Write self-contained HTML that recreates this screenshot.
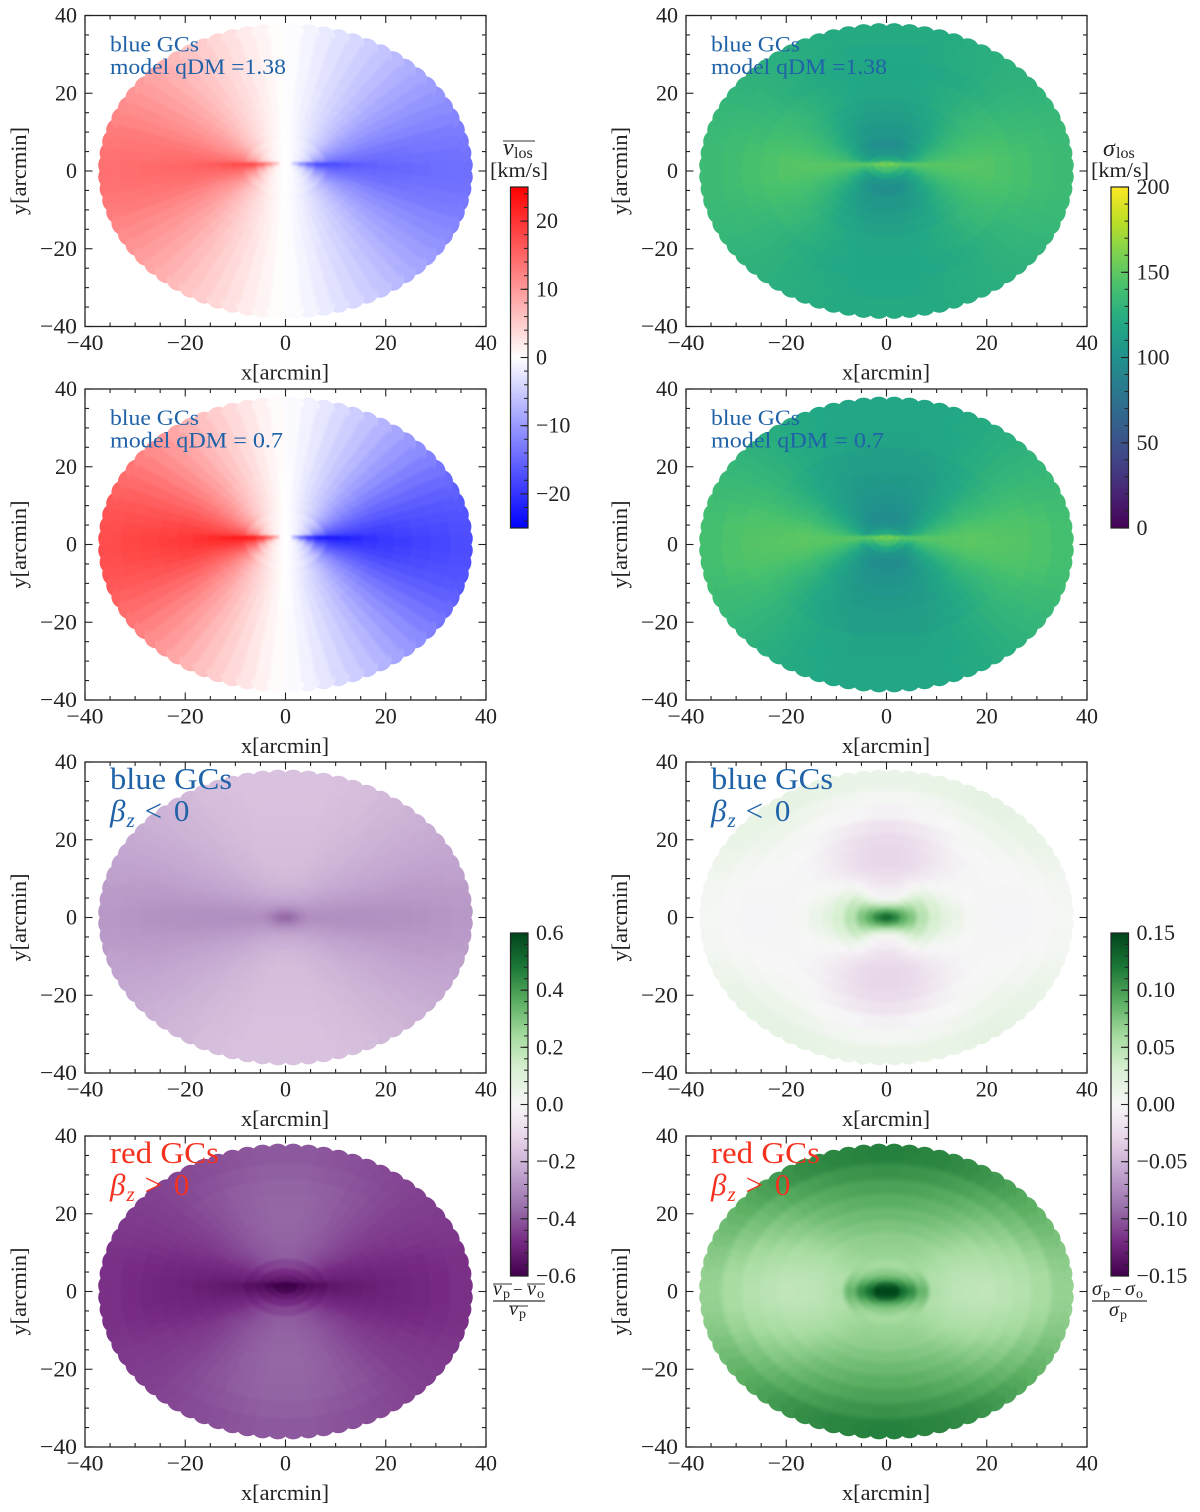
<!DOCTYPE html>
<html>
<head>
<meta charset="utf-8">
<title>Velocity and dispersion maps</title>
<style>
  html,body{margin:0;padding:0;background:#fff;}
  svg{display:block;}
  text{font-family:"Liberation Serif",serif;fill:#222;}
</style>
</head>
<body>
<svg id="figure" xmlns="http://www.w3.org/2000/svg" width="1200" height="1512" viewBox="0 0 1200 1512">
  <defs>
    <filter id="soften" filterUnits="userSpaceOnUse" x="0" y="0" width="1200" height="1512" color-interpolation-filters="sRGB">
      <feGaussianBlur stdDeviation="2.2"/>
    </filter>
    <filter id="soften-fine" filterUnits="userSpaceOnUse" x="0" y="0" width="1200" height="1512" color-interpolation-filters="sRGB">
      <feGaussianBlur stdDeviation="1.3"/>
    </filter>
  </defs>
  <g id="panels"></g>
  <g id="colorbars"></g>

  <g>
    <line x1="503" x2="535" y1="141" y2="141" stroke="#333" stroke-width="1"/>
    <text x="503" y="155" font-size="24" font-style="italic">v</text>
    <text x="514" y="158" font-size="16">los</text>
    <text x="490" y="177" font-size="21" textLength="58" lengthAdjust="spacingAndGlyphs">[km/s]</text>
  </g>
  <g>
    <text x="1103" y="156" font-size="24" font-style="italic">σ</text>
    <text x="1116" y="158" font-size="16">los</text>
    <text x="1091" y="177" font-size="21" textLength="58" lengthAdjust="spacingAndGlyphs">[km/s]</text>
  </g>
  <g>
    <line x1="493" x2="512" y1="1284" y2="1284" stroke="#333" stroke-width="1"/>
    <line x1="527" x2="545" y1="1284" y2="1284" stroke="#333" stroke-width="1"/>
    <text x="493" y="1295" font-size="20" font-style="italic">v</text>
    <text x="503" y="1298" font-size="14">p</text>
    <text x="513" y="1295" font-size="17">−</text>
    <text x="527" y="1295" font-size="20" font-style="italic">v</text>
    <text x="537" y="1298" font-size="14">o</text>
    <line x1="493" x2="545" y1="1301" y2="1301" stroke="#333" stroke-width="1.2"/>
    <line x1="509" x2="528" y1="1306" y2="1306" stroke="#333" stroke-width="1"/>
    <text x="509" y="1315" font-size="20" font-style="italic">v</text>
    <text x="519" y="1318" font-size="14">p</text>
  </g>
  <g>
    <text x="1092" y="1295" font-size="20" font-style="italic">σ</text>
    <text x="1103" y="1298" font-size="14">p</text>
    <text x="1112" y="1295" font-size="17">−</text>
    <text x="1125" y="1295" font-size="20" font-style="italic">σ</text>
    <text x="1136" y="1298" font-size="14">o</text>
    <line x1="1092" x2="1147" y1="1301" y2="1301" stroke="#333" stroke-width="1.2"/>
    <text x="1109" y="1316" font-size="20" font-style="italic">σ</text>
    <text x="1120" y="1319" font-size="14">p</text>
  </g>
</svg>

<script>
// Polar sampling of the maps: ring radius (arcmin) and wedge angle (deg from the x axis)
const ringRadii = [0.8, 2, 3.5, 5, 7, 10, 12, 14, 17, 20, 23.5, 27, 31, 35];
const wedgeAngles = [2.5, 7.5, 12.5, 17.5, 22.5, 27.5, 32.5, 37.5, 42.5, 47.5, 52.5, 57.5, 62.5, 67.5, 72.5, 77.5, 82.5, 87.5];

// Axis tick labels
const axisMajorTicks = [-40, -20, 0, 20, 40];
const vlosTicks = [-20, -10, 0, 10, 20];
const sigmaTicks = [0, 50, 100, 150, 200];
const velocityDiffTicks = [-0.6, -0.4, -0.2, 0, 0.2, 0.4, 0.6];
const dispersionDiffTicks = [-0.15, -0.10, -0.05, 0, 0.05, 0.10, 0.15];

// Mean LOS velocity, blue GCs, qDM = 1.38 (magnitude; sign flips across x = 0)
const vlosQ138 = [
[1,.8,.5,.4,.3,.2,.2,.1,.1,.1,.1,0,0,0,0,0,0,0],
[12,8,5,3.5,2.5,2,1.5,1.2,1,.8,.6,.5,.4,.3,.2,.1,.1,0],
[15,11,8,6,4.5,3.5,2.8,2.3,1.9,1.5,1.2,1,.8,.6,.4,.3,.2,.1],
[17,14,11,8.5,7,5.5,4.5,3.7,3,2.5,2,1.6,1.3,1,.7,.5,.3,.1],
[18,16,13.5,11.5,9.7,8.2,6.8,5.6,4.6,3.7,3,2.4,1.9,1.4,1,.7,.4,.1],
[17.5,16,14.5,13,11.7,10.2,8.7,7.4,6.2,5.2,4.3,3.5,2.7,2.1,1.6,1.1,.6,.2],
[16.7,15.5,14.2,13,11.6,10.3,9,7.9,6.7,5.7,4.7,3.9,3.1,2.5,1.8,1.2,.7,.2],
[16,15,14,13,11.5,10.5,9.5,8.3,7.2,6.2,5.2,4.3,3.5,2.8,2.1,1.4,.8,.2],
[15.5,14.8,14,13,11.8,10.8,9.8,8.7,7.6,6.6,5.6,4.7,3.9,3.1,2.3,1.6,.9,.3],
[15,14.5,14,13,12,11,10,9,8,7,6,5,4.2,3.4,2.5,1.7,1,.3],
[14.8,14.3,13.8,13,12,11.1,10.2,9.2,8.3,7.3,6.3,5.3,4.4,3.5,2.7,1.8,1,.3],
[14.5,14,13.5,13,12,11.2,10.3,9.4,8.5,7.5,6.5,5.6,4.6,3.7,2.8,1.9,1,.3],
[14.2,13.9,13.4,12.9,12,11.3,10.4,9.5,8.6,7.6,6.7,5.7,4.8,3.8,2.9,2,1.1,.3],
[14,13.8,13.3,12.8,12,11.3,10.5,9.6,8.7,7.8,6.8,5.8,4.9,3.9,3,2,1.1,.3]
];

// Mean LOS velocity, blue GCs, qDM = 0.7
const vlosQ07 = [
[1,.8,.6,.4,.3,.2,.2,.1,.1,.1,.1,0,0,0,0,0,0,0],
[16,11,7,5,3.5,2.7,2,1.6,1.3,1,.8,.7,.5,.4,.3,.2,.1,0],
[20,15,11,8,6,4.7,3.7,3,2.5,2,1.6,1.3,1,.8,.6,.4,.2,.1],
[22,18,15,12,9.5,7.5,6,5,4,3.3,2.7,2.2,1.7,1.3,1,.6,.4,.1],
[23,20,17.5,15.2,13,11,9.1,7.4,6,4.9,3.9,3.1,2.5,1.9,1.4,.9,.5,.2],
[22.5,20.5,18.7,17,15.2,13.2,11.4,9.7,8.3,6.9,5.7,4.6,3.6,2.8,2.1,1.4,.8,.2],
[21.8,20.3,18.7,17,15.3,13.6,11.9,10.4,9,7.6,6.3,5.2,4.2,3.3,2.5,1.7,.9,.3],
[21,20,18.5,17,15.5,14,12.5,11,9.7,8.3,7,5.8,4.7,3.7,2.8,1.9,1,.3],
[20.2,19.5,18.4,17.2,15.8,14.4,13,11.5,10.2,8.8,7.5,6.3,5.1,4,3,2.1,1.1,.3],
[19.5,19,18.3,17.3,16,14.7,13.4,12,10.7,9.3,8,6.7,5.5,4.3,3.2,2.2,1.2,.4],
[19,18.5,17.9,17,15.9,14.7,13.5,12.2,10.9,9.5,8.2,6.9,5.7,4.5,3.4,2.3,1.2,.4],
[18.5,18,17.5,16.8,15.8,14.7,13.5,12.3,11,9.7,8.4,7.1,5.9,4.7,3.5,2.4,1.3,.4],
[18,17.7,17.2,16.6,15.7,14.7,13.6,12.4,11.1,9.9,8.6,7.3,6,4.8,3.6,2.5,1.3,.4],
[17.5,17.3,17,16.4,15.6,14.6,13.6,12.4,11.2,10,8.7,7.4,6.1,4.9,3.7,2.5,1.4,.4]
];

// LOS velocity dispersion, blue GCs, qDM = 1.38
const sigmaQ138 = [
[172,172,170,168,165,162,160,158,156,155,154,153,152,152,151,151,150,150],
[160,158,155,152,150,148,146,145,143,142,140,140,140,140,140,140,140,140],
[152,150,145,140,137,134,131,129,127,125,123,122,121,120,120,119,119,119],
[150,147,141,135,129,124,120,116,113,110,108,106,105,104,104,103,103,103],
[148,146,142,137,132,127,122,118,114,110,107,104,102,100,99,98,98,98],
[147,146,143,139,135,131,127,123,119,116,112,110,108,106,105,104,104,104],
[147,146,144,140,137,133,129,125,122,118,115,113,111,109,108,107,107,107],
[147,146,144,141,138,135,132,129,126,123,120,117,115,113,112,111,110,110],
[147,146,144,142,140,137,134,131,128,126,123,120,118,117,115,114,114,114],
[146,146,144,142,140,138,135,133,131,128,126,124,122,120,119,118,117,117],
[143,143,142,141,139,137,135,133,130,128,126,124,122,121,120,119,119,119],
[141,141,140,138,136,134,132,130,128,126,124,122,121,120,120,119,119,119],
[138,138,137,136,134,133,131,130,128,127,125,124,123,122,121,120,120,120],
[136,136,135,134,133,132,130,129,128,127,126,125,124,123,122,122,122,122]
];

// LOS velocity dispersion, blue GCs, qDM = 0.7
const sigmaQ07 = [
[170,170,168,166,164,162,160,158,156,155,154,153,152,152,151,151,150,150],
[160,158,155,152,149,147,145,144,142,141,140,139,139,139,139,139,139,139],
[152,150,144,139,135,132,129,126,124,122,120,119,118,118,117,117,117,117],
[150,146,139,132,126,120,116,112,109,107,105,104,103,102,102,101,101,101],
[148,146,141,136,130,125,120,115,111,107,104,101,99,98,97,96,96,96],
[147,146,142,138,133,128,123,119,115,111,108,105,103,102,101,100,100,100],
[148,147,144,140,135,130,126,121,118,114,111,108,106,104,103,103,102,102],
[148,147,145,141,136,132,127,123,119,116,113,110,108,106,105,104,104,104],
[148,148,146,143,138,134,130,126,122,119,116,113,111,109,108,107,107,107],
[148,147,145,142,138,134,130,127,123,120,117,115,113,112,111,110,110,110],
[147,146,145,142,139,135,132,128,125,122,120,117,115,114,113,113,112,112],
[146,145,144,142,139,136,133,130,128,125,123,121,119,118,117,116,116,116],
[143,143,142,140,137,135,132,130,128,126,123,121,120,119,118,117,117,117],
[140,140,139,138,136,134,132,130,128,126,124,122,121,120,119,118,118,118]
];

// Relative velocity difference, blue GCs, beta_z < 0
const diffVBlue = [
[-.38,-.38,-.38,-.38,-.38,-.38,-.37,-.37,-.37,-.37,-.37,-.37,-.36,-.36,-.36,-.36,-.36,-.36],
[-.35,-.35,-.345,-.34,-.34,-.335,-.33,-.33,-.325,-.32,-.32,-.32,-.315,-.315,-.31,-.31,-.31,-.31],
[-.31,-.31,-.305,-.30,-.30,-.295,-.29,-.285,-.28,-.28,-.275,-.27,-.27,-.265,-.265,-.26,-.26,-.26],
[-.29,-.29,-.285,-.28,-.275,-.27,-.265,-.26,-.255,-.25,-.245,-.24,-.24,-.235,-.235,-.23,-.23,-.23],
[-.29,-.29,-.28,-.275,-.27,-.26,-.255,-.25,-.24,-.235,-.23,-.225,-.22,-.215,-.215,-.21,-.21,-.21],
[-.29,-.285,-.28,-.27,-.26,-.255,-.245,-.24,-.23,-.225,-.215,-.21,-.205,-.2,-.195,-.195,-.19,-.19],
[-.29,-.285,-.278,-.268,-.258,-.25,-.24,-.235,-.225,-.22,-.21,-.205,-.2,-.195,-.19,-.188,-.185,-.185],
[-.29,-.285,-.275,-.265,-.255,-.245,-.235,-.23,-.22,-.215,-.205,-.2,-.195,-.19,-.185,-.18,-.18,-.18],
[-.288,-.283,-.272,-.262,-.252,-.242,-.232,-.227,-.217,-.212,-.202,-.197,-.192,-.187,-.182,-.178,-.177,-.177],
[-.285,-.28,-.27,-.26,-.25,-.24,-.23,-.225,-.215,-.21,-.2,-.195,-.19,-.185,-.18,-.175,-.175,-.175],
[-.283,-.278,-.268,-.26,-.25,-.24,-.23,-.225,-.215,-.207,-.2,-.192,-.187,-.182,-.177,-.172,-.172,-.172],
[-.28,-.275,-.265,-.26,-.25,-.24,-.23,-.225,-.215,-.205,-.2,-.19,-.185,-.18,-.175,-.17,-.17,-.17],
[-.275,-.27,-.263,-.255,-.247,-.238,-.23,-.222,-.212,-.205,-.197,-.19,-.182,-.177,-.172,-.167,-.167,-.167],
[-.27,-.265,-.26,-.25,-.245,-.235,-.23,-.22,-.21,-.205,-.195,-.19,-.18,-.175,-.17,-.165,-.165,-.165]
];

// Relative dispersion difference, blue GCs, beta_z < 0
const diffSigmaBlue = [
[.13,.13,.13,.13,.13,.13,.128,.128,.126,.126,.125,.125,.125,.125,.125,.125,.125,.125],
[.115,.115,.112,.11,.108,.105,.103,.1,.098,.095,.092,.09,.088,.086,.085,.085,.085,.085],
[.09,.09,.088,.086,.084,.08,.078,.074,.07,.066,.06,.054,.048,.044,.04,.038,.036,.036],
[.075,.074,.072,.07,.066,.062,.058,.052,.046,.038,.03,.022,.014,.008,.004,0,-.002,-.002],
[.05,.05,.048,.046,.044,.042,.04,.036,.03,.02,.012,.006,0,-.004,-.006,-.008,-.008,-.008],
[.032,.03,.029,.028,.026,.024,.02,.016,.012,.008,.003,-.002,-.006,-.01,-.014,-.016,-.018,-.018],
[.02,.019,.017,.014,.012,.009,.006,.003,0,-.003,-.007,-.01,-.014,-.018,-.02,-.022,-.023,-.023],
[.012,.011,.009,.007,.005,.003,.001,-.002,-.005,-.008,-.012,-.015,-.019,-.022,-.025,-.027,-.028,-.028],
[.003,.003,.002,.001,0,-.001,-.002,-.004,-.006,-.009,-.011,-.015,-.018,-.021,-.024,-.026,-.028,-.028],
[-.002,-.002,-.002,-.002,-.002,-.002,-.002,-.003,-.004,-.006,-.008,-.011,-.014,-.017,-.02,-.022,-.024,-.025],
[-.003,-.003,-.002,-.002,-.001,0,0,0,0,-.001,-.002,-.004,-.007,-.009,-.012,-.014,-.016,-.017],
[-.003,-.003,-.002,-.001,0,.001,.002,.003,.004,.004,.003,.002,0,-.001,-.002,-.003,-.004,-.005],
[-.001,0,.001,.002,.004,.006,.007,.009,.01,.01,.01,.009,.008,.007,.006,.005,.004,.004],
[.002,.003,.004,.006,.008,.01,.012,.014,.015,.016,.017,.017,.016,.015,.014,.013,.012,.012]
];

// Relative velocity difference, red GCs, beta_z > 0
const diffVRed = [
[-.6,-.6,-.6,-.6,-.6,-.6,-.6,-.6,-.6,-.6,-.6,-.6,-.6,-.6,-.6,-.6,-.6,-.6],
[-.6,-.6,-.6,-.6,-.6,-.595,-.595,-.59,-.59,-.585,-.585,-.58,-.58,-.58,-.58,-.58,-.58,-.58],
[-.58,-.58,-.575,-.57,-.565,-.56,-.555,-.55,-.545,-.54,-.535,-.53,-.53,-.525,-.525,-.52,-.52,-.52],
[-.56,-.56,-.555,-.55,-.54,-.535,-.525,-.52,-.51,-.505,-.5,-.495,-.49,-.485,-.485,-.48,-.48,-.48],
[-.55,-.55,-.54,-.53,-.52,-.51,-.5,-.49,-.48,-.47,-.46,-.45,-.445,-.44,-.435,-.43,-.43,-.43],
[-.53,-.53,-.52,-.51,-.5,-.49,-.48,-.47,-.45,-.44,-.43,-.42,-.41,-.405,-.4,-.395,-.39,-.39],
[-.525,-.52,-.515,-.505,-.495,-.485,-.475,-.46,-.445,-.435,-.425,-.415,-.405,-.4,-.395,-.39,-.385,-.385],
[-.52,-.515,-.51,-.5,-.49,-.48,-.47,-.45,-.44,-.43,-.42,-.41,-.4,-.395,-.39,-.385,-.38,-.38],
[-.51,-.507,-.502,-.495,-.485,-.475,-.465,-.45,-.44,-.43,-.42,-.41,-.4,-.392,-.387,-.382,-.377,-.377],
[-.5,-.5,-.495,-.49,-.48,-.47,-.46,-.45,-.44,-.43,-.42,-.41,-.4,-.39,-.385,-.38,-.375,-.375],
[-.495,-.495,-.49,-.485,-.475,-.465,-.457,-.447,-.44,-.43,-.42,-.41,-.402,-.392,-.387,-.382,-.377,-.377],
[-.49,-.49,-.485,-.48,-.47,-.46,-.455,-.445,-.44,-.43,-.42,-.41,-.405,-.395,-.39,-.385,-.38,-.38],
[-.48,-.48,-.478,-.472,-.465,-.457,-.452,-.445,-.44,-.432,-.425,-.417,-.412,-.405,-.4,-.395,-.39,-.39],
[-.47,-.47,-.47,-.465,-.46,-.455,-.45,-.445,-.44,-.435,-.43,-.425,-.42,-.415,-.41,-.405,-.4,-.4]
];

// Relative dispersion difference, red GCs, beta_z > 0
const diffSigmaRed = [
[.15,.15,.15,.15,.15,.15,.15,.15,.15,.15,.15,.15,.15,.15,.15,.15,.15,.15],
[.15,.15,.15,.15,.15,.148,.146,.144,.142,.14,.138,.136,.134,.132,.13,.13,.13,.13],
[.125,.124,.122,.12,.117,.114,.11,.107,.104,.101,.098,.095,.092,.09,.088,.087,.086,.086],
[.11,.108,.105,.1,.095,.09,.086,.082,.079,.076,.074,.072,.071,.07,.07,.07,.07,.07],
[.085,.083,.08,.077,.074,.071,.068,.066,.064,.063,.062,.061,.06,.06,.06,.06,.06,.06],
[.055,.054,.053,.053,.053,.054,.056,.058,.06,.061,.062,.063,.064,.065,.065,.065,.065,.065],
[.05,.05,.051,.052,.053,.055,.057,.059,.061,.062,.064,.065,.066,.067,.067,.067,.067,.067],
[.047,.047,.048,.049,.051,.053,.055,.057,.06,.062,.064,.066,.067,.068,.069,.07,.07,.07],
[.046,.046,.048,.05,.052,.054,.057,.06,.063,.066,.068,.071,.073,.074,.075,.076,.076,.076],
[.045,.046,.048,.05,.053,.056,.059,.062,.066,.07,.073,.076,.078,.08,.081,.082,.083,.083],
[.048,.049,.051,.054,.057,.06,.064,.068,.071,.075,.079,.082,.084,.086,.088,.089,.09,.09],
[.052,.053,.055,.058,.061,.065,.069,.073,.077,.081,.085,.088,.091,.093,.095,.096,.097,.097],
[.058,.059,.062,.065,.069,.073,.077,.081,.085,.089,.093,.096,.099,.101,.103,.104,.105,.106],
[.066,.067,.07,.073,.077,.081,.085,.089,.093,.097,.101,.105,.108,.11,.112,.113,.114,.115]
];

const PANEL_W = 401;
const PANEL_H = 311;
const AXIS_LIMIT = 40;
const FIELD_R_OUTER = 35.5;   // data radius where the wedge field stops
const EDGE_MARK_R = 35;       // data radius of the scalloped edge marks
const EDGE_MARK_PX = 12;      // pixel radius of the scalloped edge marks
const OVERPAINT_PX = 8;       // the lower half of some maps is painted over the upper half, offset upward
const OVERPAINT_FLAT_R = 16;
const SVG_NS = 'http://www.w3.org/2000/svg';

function mixHex(a, b, f) {
  const pa = [parseInt(a.slice(1,3),16), parseInt(a.slice(3,5),16), parseInt(a.slice(5,7),16)];
  const pb = [parseInt(b.slice(1,3),16), parseInt(b.slice(3,5),16), parseInt(b.slice(5,7),16)];
  return 'rgb(' + pa.map((c, i) => Math.round(c + (pb[i] - c) * f)).join(',') + ')';
}
function ramp(stops) {
  return function (t) {
    t = Math.max(0, Math.min(1, t));
    const p = t * (stops.length - 1);
    const i = Math.min(stops.length - 2, Math.floor(p));
    return mixHex(stops[i], stops[i + 1], p - i);
  };
}
const bwr = ramp(['#0000ff', '#ffffff', '#ff0000']);
const viridis = ramp(['#440154','#482475','#414487','#355f8d','#2a788e','#21918c','#22a884','#44bf70','#7ad151','#bddf26','#fde725']);
const prgn = ramp(['#40004b','#762a83','#9970ab','#c2a5cf','#e7d4e8','#f7f7f7','#d9f0d3','#a6dba0','#5aae61','#1b7837','#00441b']);

const panelSpecs = [
  {id:'vlos-q138', x0:85,  y0:15.5,  data:vlosQ138,      cmap:bwr,     vmin:-25,   vmax:25,   flip:true,  overpaint:true,  lines:['blue GCs','model qDM =1.38'], big:false},
  {id:'sigma-q138',x0:686, y0:15.5,  data:sigmaQ138,     cmap:viridis, vmin:0,     vmax:200,  flip:false, overpaint:true,  lines:['blue GCs','model qDM =1.38'], big:false},
  {id:'vlos-q07',  x0:85,  y0:389,   data:vlosQ07,       cmap:bwr,     vmin:-25,   vmax:25,   flip:true,  overpaint:true,  lines:['blue GCs','model qDM = 0.7'], big:false},
  {id:'sigma-q07', x0:686, y0:389,   data:sigmaQ07,      cmap:viridis, vmin:0,     vmax:200,  flip:false, overpaint:true,  lines:['blue GCs','model qDM = 0.7'], big:false},
  {id:'diff-v-blue',    x0:85,  y0:762,  data:diffVBlue,     cmap:prgn, vmin:-0.6,  vmax:0.6,  flip:false, overpaint:false, lines:['blue GCs','< 0'], big:true, color:'#1f62a8'},
  {id:'diff-sigma-blue',x0:686, y0:762,  data:diffSigmaBlue, cmap:prgn, vmin:-0.15, vmax:0.15, flip:false, overpaint:false, lines:['blue GCs','< 0'], big:true, color:'#1f62a8'},
  {id:'diff-v-red',     x0:85,  y0:1136, data:diffVRed,      cmap:prgn, vmin:-0.6,  vmax:0.6,  flip:false, overpaint:true,  lines:['red GCs','> 0'], big:true, color:'#f5311f'},
  {id:'diff-sigma-red', x0:686, y0:1136, data:diffSigmaRed,  cmap:prgn, vmin:-0.15, vmax:0.15, flip:false, overpaint:false, lines:['red GCs','> 0'], big:true, color:'#f5311f'}
];

const colorbarSpecs = [
  {id:'vlos',     x:510.5, top:187, bottom:528,  cmap:bwr,     vmin:-25,   vmax:25,   ticks:vlosTicks,           minor:2,    digits:0},
  {id:'sigma',    x:1111,  top:187, bottom:528,  cmap:viridis, vmin:0,     vmax:200,  ticks:sigmaTicks,          minor:10,   digits:0},
  {id:'diff-v',   x:510.5, top:933, bottom:1276, cmap:prgn,    vmin:-0.6,  vmax:0.6,  ticks:velocityDiffTicks,   minor:0.04, digits:1},
  {id:'diff-sigma',x:1111, top:933, bottom:1276, cmap:prgn,    vmin:-0.15, vmax:0.15, ticks:dispersionDiffTicks, minor:0.01, digits:2}
];

function svgEl(tag, attrs, parent) {
  const el = document.createElementNS(SVG_NS, tag);
  for (const k in attrs) el.setAttribute(k, attrs[k]);
  parent.appendChild(el);
  return el;
}

function ringEdgesFrom(radii) {
  const edges = [0];
  for (let i = 0; i < radii.length - 1; i++) edges.push((radii[i] + radii[i + 1]) / 2);
  edges.push(FIELD_R_OUTER);
  return edges;
}

function overpaintOffset(r) {
  if (r <= OVERPAINT_FLAT_R) return OVERPAINT_PX;
  return Math.max(0, OVERPAINT_PX * (FIELD_R_OUTER - r) / (FIELD_R_OUTER - OVERPAINT_FLAT_R));
}

function drawPanel(spec, parent) {
  const sx = x => spec.x0 + (x + AXIS_LIMIT) / (2 * AXIS_LIMIT) * PANEL_W;
  const sy = y => spec.y0 + (AXIS_LIMIT - y) / (2 * AXIS_LIMIT) * PANEL_H;
  const colour = v => spec.cmap((v - spec.vmin) / (spec.vmax - spec.vmin));
  const signed = (v, side) => (spec.flip && side > 0) ? -v : v;
  const edges = ringEdgesFrom(ringRadii);
  const halfStep = (wedgeAngles[1] - wedgeAngles[0]) / 2;
  const toRad = Math.PI / 180;

  const g = svgEl('g', {}, parent);
  
  

  // Scalloped rim sits beneath the field so only its outer bumps show
  const edgeMarks = svgEl('g', {}, g);
  
  
  const sides = [-1, 1];
  const outer = spec.data[spec.data.length - 1];
  wedgeAngles.forEach((angle, j) => {
    sides.forEach(qx => sides.forEach(qy => {
      const cx = sx(qx * EDGE_MARK_R * Math.cos(angle * toRad));
      const cy = sy(qy * EDGE_MARK_R * Math.sin(angle * toRad));
      const mark = svgEl('circle', {cx:cx.toFixed(1), cy:cy.toFixed(1), r:EDGE_MARK_PX, fill:colour(signed(outer[j], qx))}, edgeMarks);
      
      
    }));
  });

  const filterUrl = spec.overpaint ? 'url(#soften-fine)' : 'url(#soften)';
  const upperField = svgEl('g', {filter:filterUrl}, g);
  
  
  const lowerField = spec.overpaint ? svgEl('g', {filter:filterUrl}, g) : upperField;
  if (spec.overpaint) {
    
    
  }

  ringRadii.forEach((radius, i) => {
    wedgeAngles.forEach((angle, j) => {
      let a0 = (angle - halfStep) * toRad;
      const a1 = (angle + halfStep) * toRad;
      const r0 = edges[i], r1 = edges[i + 1];
      sides.forEach(qx => sides.forEach(qy => {
        const isLower = qy < 0;
        const target = isLower ? lowerField : upperField;
        const startAngle = (!isLower && spec.overpaint && j === 0) ? (angle - 3 * halfStep) * toRad : a0;
        const pts = [[r0,startAngle],[r1,startAngle],[r1,a1],[r0,a1]].map(p => {
          const off = (isLower && spec.overpaint) ? overpaintOffset(p[0]) : 0;
          return sx(qx * p[0] * Math.cos(p[1])).toFixed(1) + ' ' + (sy(qy * p[0] * Math.sin(p[1])) - off).toFixed(1);
        });
        const fill = colour(signed(spec.data[i][j], qx));
        const cell = svgEl('path', {d:'M' + pts.join('L') + 'Z', fill:fill, stroke:fill, 'stroke-width':0.7}, target);
        
        
      }));
    });
  });

  // Frame and ticks
  const frame = svgEl('rect', {x:spec.x0, y:spec.y0, width:PANEL_W, height:PANEL_H, fill:'none', stroke:'#222', 'stroke-width':1.3}, g);
  
  

  const ticks = svgEl('g', {stroke:'#222', 'stroke-width':1.1}, g);
  
  
  for (let v = -AXIS_LIMIT; v <= AXIS_LIMIT; v += 5) {
    const isMajor = axisMajorTicks.indexOf(v) >= 0;
    const len = isMajor ? 7.5 : 4;
    const px = sx(v), py = sy(v);
    const bottom = spec.y0 + PANEL_H, right = spec.x0 + PANEL_W;
    [[px,bottom,px,bottom-len],[px,spec.y0,px,spec.y0+len],[spec.x0,py,spec.x0+len,py],[right,py,right-len,py]].forEach(c => {
      const t = svgEl('line', {x1:c[0], y1:c[1], x2:c[2], y2:c[3]}, ticks);
      
      
    });
  }

  axisMajorTicks.forEach(v => {
    const label = (v < 0 ? '−' : '') + Math.abs(v);
    const w = v === 0 ? 11 : (v < 0 ? 37 : 22);
    const xt = svgEl('text', {x:sx(v), y:spec.y0 + PANEL_H + 23.5, 'text-anchor':'middle', 'font-size':22, textLength:w, lengthAdjust:'spacingAndGlyphs'}, g);
    xt.textContent = label;
    
    
    const yt = svgEl('text', {x:spec.x0 - 8, y:sy(v) + 7, 'text-anchor':'end', 'font-size':22, textLength:w, lengthAdjust:'spacingAndGlyphs'}, g);
    yt.textContent = label;
    
    
  });

  const xTitle = svgEl('text', {x:spec.x0 + PANEL_W / 2 - 0.5, y:spec.y0 + PANEL_H + 53, 'text-anchor':'middle', 'font-size':22, textLength:88, lengthAdjust:'spacingAndGlyphs'}, g);
  xTitle.textContent = 'x[arcmin]';
  
  

  const yx = spec.x0 - 59, yy = spec.y0 + PANEL_H / 2;
  const yTitle = svgEl('text', {x:yx, y:yy, 'text-anchor':'middle', 'font-size':22, textLength:88, lengthAdjust:'spacingAndGlyphs', transform:'rotate(-90 ' + yx + ' ' + yy + ')'}, g);
  yTitle.textContent = 'y[arcmin]';
  
  

  // Annotations
  const ax = spec.x0 + 25;
  if (!spec.big) {
    const a1 = svgEl('text', {x:ax, y:spec.y0 + 36, 'font-size':22, textLength:89, lengthAdjust:'spacingAndGlyphs'}, g);
    a1.style.fill = '#1f62a8';
    a1.textContent = spec.lines[0];
    
    
    const a2 = svgEl('text', {x:ax, y:spec.y0 + 58.5, 'font-size':22, textLength:spec.lines[1].indexOf('=1') > 0 ? 176 : 173, lengthAdjust:'spacingAndGlyphs'}, g);
    a2.style.fill = '#1f62a8';
    a2.textContent = spec.lines[1];
    
    
  } else {
    const a1 = svgEl('text', {x:ax, y:spec.y0 + 27, 'font-size':31, textLength:spec.lines[0].charAt(0) === 'b' ? 122 : 109, lengthAdjust:'spacingAndGlyphs'}, g);
    a1.style.fill = spec.color;
    a1.textContent = spec.lines[0];
    
    
    const a2 = svgEl('text', {x:ax, y:spec.y0 + 59, 'font-size':31}, g);
    a2.style.fill = spec.color;
    
    
    const beta = svgEl('tspan', {'font-style':'italic'}, a2);
    beta.style.fill = spec.color;
    beta.textContent = 'β';
    const sub = svgEl('tspan', {'font-style':'italic', 'font-size':21, dy:6, dx:1}, a2);
    sub.style.fill = spec.color;
    sub.textContent = 'z';
    const rest = svgEl('tspan', {dy:-6, dx:10}, a2);
    rest.style.fill = spec.color;
    rest.style.wordSpacing = '4px';
    rest.textContent = spec.lines[1];
  }
}

function drawColorbar(spec, parent) {
  const W = 17.5;
  const g = svgEl('g', {}, parent);
  
  

  const defs = document.querySelector('#figure defs');
  const grad = svgEl('linearGradient', {id:'grad-' + spec.id, x1:0, y1:1, x2:0, y2:0}, defs);
  for (let s = 0; s <= 60; s++) {
    svgEl('stop', {offset:(s / 60).toFixed(4), 'stop-color':spec.cmap(s / 60)}, grad);
  }
  const bar = svgEl('rect', {x:spec.x, y:spec.top, width:W, height:spec.bottom - spec.top, fill:'url(#grad-' + spec.id + ')', stroke:'#222', 'stroke-width':1.2}, g);
  
  

  const sv = v => spec.bottom - (v - spec.vmin) / (spec.vmax - spec.vmin) * (spec.bottom - spec.top);
  const right = spec.x + W;
  const steps = Math.round((spec.vmax - spec.vmin) / spec.minor);
  const firstMinor = Math.ceil(spec.vmin / spec.minor - 1e-9) * spec.minor;
  for (let k = 0; k <= steps; k++) {
    const v = firstMinor + k * spec.minor;
    if (v > spec.vmax + 1e-9) break;
    const tk = svgEl('line', {x1:right, x2:right - 4, y1:sv(v).toFixed(1), y2:sv(v).toFixed(1), stroke:'#222', 'stroke-width':1}, g);
    
    
  }
  spec.ticks.forEach(v => {
    const tk = svgEl('line', {x1:right, x2:right - 7.5, y1:sv(v).toFixed(1), y2:sv(v).toFixed(1), stroke:'#222', 'stroke-width':1.1}, g);
    
    
    const t = svgEl('text', {x:right + 8, y:(sv(v) + 7).toFixed(1), 'font-size':22}, g);
    t.textContent = (v < 0 ? '−' : '') + Math.abs(v).toFixed(spec.digits);
    
    
  });
}

const panelsRoot = document.getElementById('panels');
panelSpecs.forEach(spec => drawPanel(spec, panelsRoot));
const colorbarsRoot = document.getElementById('colorbars');
colorbarSpecs.forEach(spec => drawColorbar(spec, colorbarsRoot));
</script>
</body>
</html>
